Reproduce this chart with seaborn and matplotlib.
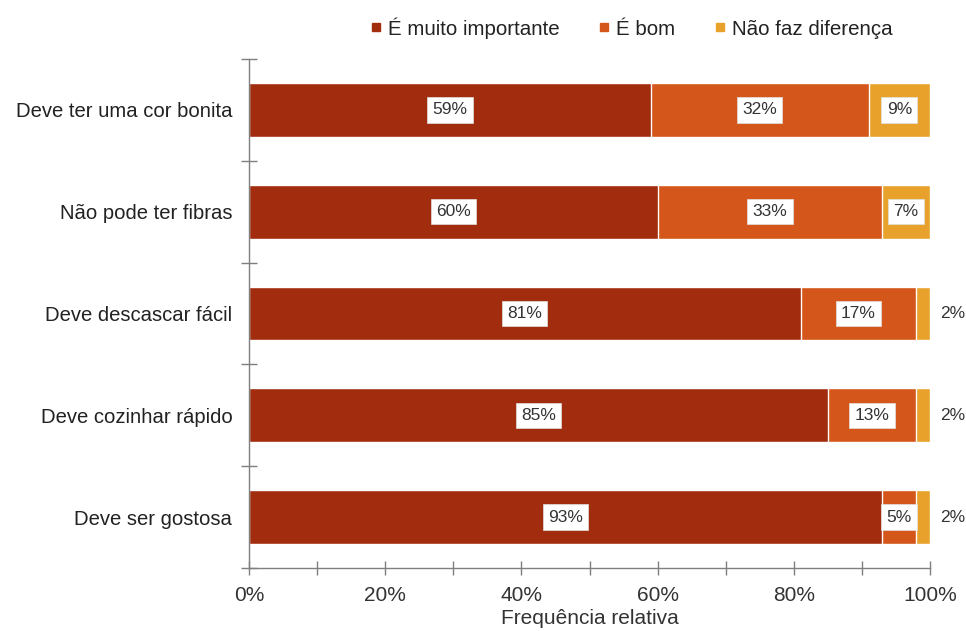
import matplotlib
matplotlib.use("Agg")
import matplotlib.pyplot as plt
from matplotlib.lines import Line2D
from matplotlib.ticker import MultipleLocator, FixedLocator, PercentFormatter
import numpy as np
import pandas as pd
import seaborn as sns

# Data
categories = ["Deve ter uma cor bonita", "Não pode ter fibras", "Deve descascar fácil",
              "Deve cozinhar rápido", "Deve ser gostosa"]
series_names = ["É muito importante", "É bom", "Não faz diferença"]
muito_importante = [59, 60, 81, 85, 93]
bom = [32, 33, 17, 13, 5]
nao_faz_diferenca = [9, 7, 2, 2, 2]
colors = ["#A22D0E", "#D5561A", "#E8A22C"]

sns.set_theme(style="white")
plt.rcParams["font.family"] = ["Liberation Sans", "DejaVu Sans"]

values = np.array([muito_importante, bom, nao_faz_diferenca], dtype=float)
cumulative = values.cumsum(axis=0)

rows = []
for s, name in enumerate(series_names):
    for c, cat in enumerate(categories):
        rows.append({"categoria": cat, "serie": name, "fim": cumulative[s, c]})
df = pd.DataFrame(rows)

fig = plt.figure(figsize=(9.66, 6.31), dpi=100)
ax = fig.add_axes([0.2578, 0.0998, 0.7049, 0.8067])

# Stacked look: longest (cumulative) bars drawn first, shorter ones on top
sns.barplot(data=df, y="categoria", x="fim", hue="serie",
            hue_order=series_names[::-1], palette=colors[::-1],
            order=categories, dodge=False, saturation=1, width=0.53,
            edgecolor="white", linewidth=1.0, legend=False, ax=ax)

# Value labels
for s in range(3):
    for c in range(len(categories)):
        v = values[s, c]
        start = cumulative[s, c] - v
        if v >= 5:
            ax.text(start + v / 2, c, f"{int(v)}%", ha="center", va="center",
                    fontsize=12.5, color="#333333",
                    bbox=dict(boxstyle="square,pad=0.3", fc="white", ec="#e0e0e0", lw=0.5))
        else:
            ax.text(101.5, c, f"{int(v)}%", ha="left", va="center",
                    fontsize=12.5, color="#333333", clip_on=False)

ax.set_xlim(0, 100)
ax.set_ylim(len(categories) - 0.5, -0.5)
ax.xaxis.set_major_locator(MultipleLocator(20))
ax.xaxis.set_minor_locator(MultipleLocator(10))
ax.xaxis.set_major_formatter(PercentFormatter(100, decimals=0))
ax.yaxis.set_minor_locator(FixedLocator(np.arange(-0.5, len(categories), 1.0)))

for side in ["top", "right"]:
    ax.spines[side].set_visible(False)
for side in ["left", "bottom"]:
    ax.spines[side].set_color("#7f7f7f")
    ax.spines[side].set_linewidth(1.0)

ax.tick_params(axis="x", which="both", direction="inout", length=10, width=1,
               color="#7f7f7f", labelsize=15, labelcolor="#333333", pad=8, bottom=True)
ax.tick_params(axis="y", which="major", length=0, labelsize=14.6, labelcolor="#222222", pad=12)
ax.tick_params(axis="y", which="minor", direction="inout", length=12, width=1,
               color="#7f7f7f", left=True)

ax.set_xlabel("Frequência relativa", fontsize=15, color="#333333", labelpad=3)
ax.set_ylabel("")

handles = [Line2D([0], [0], marker="s", linestyle="none", markersize=5.5,
                  markerfacecolor=col, markeredgecolor=col) for col in colors]
fig.legend(handles, series_names, loc="center", bbox_to_anchor=(0.654, 0.956),
           ncol=3, frameon=False, fontsize=14.8, handlelength=0.5, handletextpad=0.35,
           columnspacing=1.9, labelcolor="#222222")

fig.savefig("out.png", dpi=100)
